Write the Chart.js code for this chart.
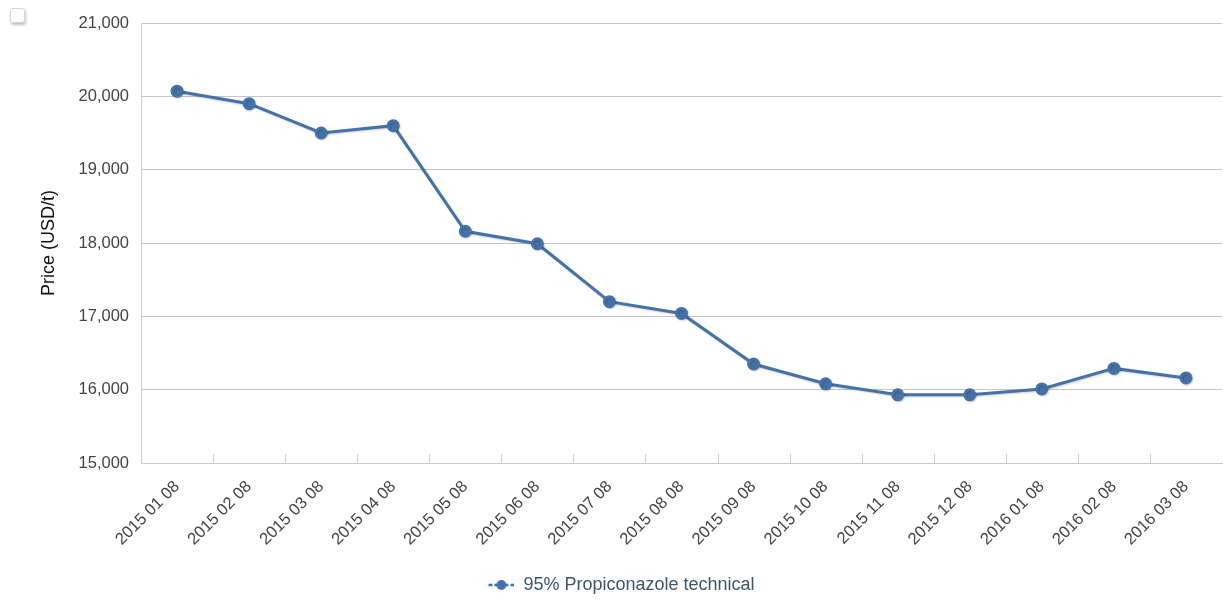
<!DOCTYPE html>
<html>
<head>
<meta charset="utf-8">
<script src="https://cdn.jsdelivr.net/npm/chart.js@4"></script>
<style>
  html, body { margin: 0; padding: 0; background: #fff; overflow: hidden; }
  #wrap { position: relative; width: 1223px; height: 599px; overflow: hidden; }
  #box {
    position: absolute; left: 10px; top: 8px; width: 13px; height: 13px;
    border: 1px solid #d8d8d8; border-radius: 3px; background: #fff;
    box-shadow: 1px 2px 3px rgba(0,0,0,.25);
  }
</style>
</head>
<body>
<div id="wrap">
  <!-- a bit wider than the page: Chart.js keeps room right of the plot for the rotated last label -->
  <canvas id="chart1" width="1230" height="599"></canvas>
  <div id="box"></div>
</div>
<script>
const categories = ['2015 01 08', '2015 02 08', '2015 03 08', '2015 04 08', '2015 05 08', '2015 06 08', '2015 07 08',
    '2015 08 08', '2015 09 08', '2015 10 08', '2015 11 08', '2015 12 08', '2016 01 08', '2016 02 08', '2016 03 08']
const prices = [20070, 19900, 19500, 19600, 18160, 17990, 17200, 17040, 16350, 16080, 15930, 15930, 16010, 16290, 16160]
const seriesName = '95% Propiconazole technical'
const yMin = 15000
const yMax = 21000

const lineColor = '#4572A7'
const axisColor = '#C0D0E0'
const fontFamily = '"Liberation Sans", Arial, Helvetica, sans-serif'

// legend symbol: short line with a dot (blank space on the left nudges the legend right)
const legendIcon = () => {
    const c = document.createElement('canvas')
    c.width = 40
    c.height = 12
    const ctx = c.getContext('2d')
    ctx.strokeStyle = lineColor
    ctx.lineWidth = 2.5
    ctx.beginPath()
    ctx.moveTo(14, 6)
    ctx.lineTo(40, 6)
    ctx.stroke()
    ctx.fillStyle = lineColor
    ctx.beginPath()
    ctx.arc(27, 6, 5, 0, Math.PI * 2)
    ctx.fill()
    ctx.fillStyle = '#fff'
    ctx.fillRect(18, 3, 2, 6)
    ctx.fillRect(34, 3, 2, 6)
    return c
}

// short tick marks pointing up into the plot, between categories
const innerTicks = {
    id: 'innerTicks',
    afterDraw(chart) {
        const x = chart.scales.x
        const ctx = chart.ctx
        const half = (x.getPixelForValue(1) - x.getPixelForValue(0)) / 2
        ctx.save()
        ctx.strokeStyle = axisColor
        ctx.lineWidth = 1
        for (let i = 0; i < categories.length - 1; i++) {
            const px = Math.round(x.getPixelForValue(i) + half) + 0.5
            ctx.beginPath()
            ctx.moveTo(px, x.top)
            ctx.lineTo(px, x.top - 9)
            ctx.stroke()
        }
        ctx.restore()
    }
}

const lineShadow = {
    id: 'lineShadow',
    beforeDatasetDraw(chart) {
        const ctx = chart.ctx
        ctx.save()
        ctx.shadowColor = 'rgba(0,0,0,0.18)'
        ctx.shadowOffsetX = 1
        ctx.shadowOffsetY = 1
        ctx.shadowBlur = 2
    },
    afterDatasetDraw(chart) {
        chart.ctx.restore()
    }
}

const drawPriceChart = () => {

    const data = {
        labels: categories,
        datasets: [{
            label: seriesName,
            data: prices,
            borderColor: lineColor,
            backgroundColor: lineColor,
            borderWidth: 3,
            pointRadius: 5,
            pointHoverRadius: 5,
            pointBorderColor: lineColor,
            pointBackgroundColor: lineColor,
            tension: 0,
            fill: false
        }]
    }

    const options = {
        responsive: false,
        animation: false,
        layout: {
            padding: { top: 23, right: 1, left: 0, bottom: -5 }
        },
        plugins: {
            tooltip: { enabled: false },
            legend: {
                display: true,
                position: 'bottom',
                labels: {
                    color: '#3E576F',
                    font: { family: fontFamily, size: 18 },
                    padding: 8,
                    generateLabels: () => [{
                        text: seriesName,
                        pointStyle: legendIcon(),
                        fontColor: '#3E576F',
                        datasetIndex: 0
                    }],
                    usePointStyle: true,
                    pointStyleWidth: 40
                }
            }
        },
        scales: {
            x: {
                offset: true,
                grid: { display: false },
                border: { display: true, color: axisColor, width: 1 },
                ticks: {
                    color: '#444',
                    font: { family: fontFamily, size: 16.5 },
                    maxRotation: 45,
                    minRotation: 45,
                    autoSkip: false,
                    padding: 6
                },
                afterFit: scale => { scale.height = 105 }
            },
            y: {
                min: yMin,
                max: yMax,
                grid: { color: '#C6C6C6', drawTicks: false },
                border: { display: true, color: axisColor, width: 1 },
                ticks: {
                    stepSize: 1000,
                    color: '#444',
                    padding: 12,
                    font: { family: fontFamily, size: 16.5 },
                    callback: v => v.toLocaleString('en-US')
                },
                title: {
                    display: true,
                    text: 'Price (USD/t)',
                    color: '#111',
                    font: { family: fontFamily, size: 18 },
                    padding: { top: 38, bottom: 0 }
                },
                afterFit: scale => { scale.width = 141 }
            }
        }
    }

    new Chart('chart1', {
        type: 'line',
        data,
        options,
        plugins: [innerTicks, lineShadow]
    })
}

drawPriceChart()
</script>
</body>
</html>
